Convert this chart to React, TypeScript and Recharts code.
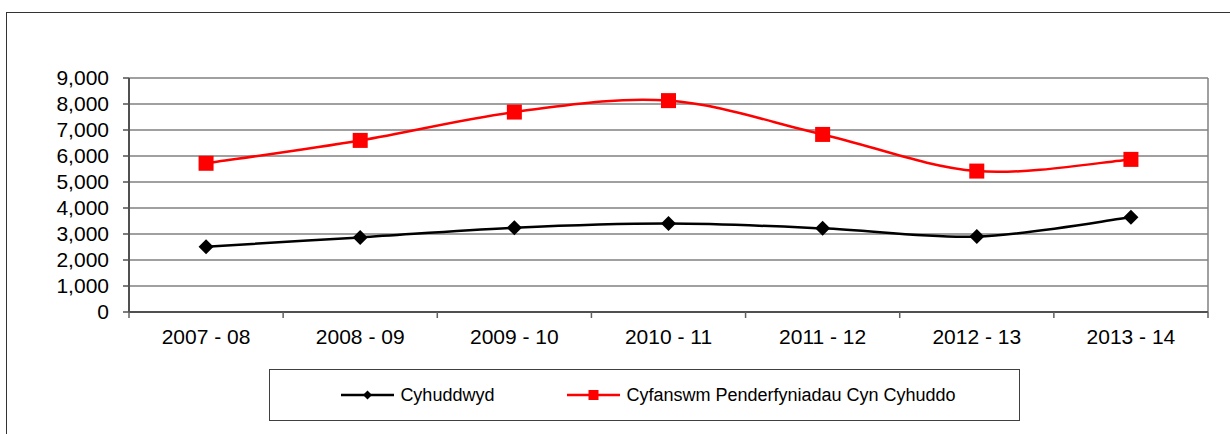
import React from 'react';
import { LineChart, Line, XAxis, YAxis, CartesianGrid } from 'recharts';

const years = ['2007 - 08', '2008 - 09', '2009 - 10', '2010 - 11', '2011 - 12', '2012 - 13', '2013 - 14'];
const charged = [2510, 2870, 3240, 3400, 3220, 2900, 3640];
const preChargeTotal = [5720, 6600, 7690, 8130, 6830, 5420, 5870];
const yTicks = [0, 1000, 2000, 3000, 4000, 5000, 6000, 7000, 8000, 9000];

const data = years.map((year, i) => ({
  year,
  Cyhuddwyd: charged[i],
  'Cyfanswm Penderfyniadau Cyn Cyhuddo': preChargeTotal[i],
}));

const W = 1230;
const H = 434;
const MARGIN = { top: 78, right: 22, bottom: 82, left: 0 };
const Y_AXIS_W = 129;
const FONT = '"Liberation Sans", Arial, sans-serif';
const BAND = (W - MARGIN.left - Y_AXIS_W - MARGIN.right) / years.length;

// Excel-style smoothed line (Catmull-Rom into cubic beziers)
const excelSmooth = (context: any) => {
  let pts: [number, number][] = [];
  return {
    areaStart() {},
    areaEnd() {},
    lineStart() {
      pts = [];
    },
    point(x: number, y: number) {
      pts.push([+x, +y]);
    },
    lineEnd() {
      const n = pts.length;
      if (!n) return;
      context.moveTo(pts[0][0], pts[0][1]);
      for (let i = 0; i < n - 1; i++) {
        const p0 = pts[Math.max(i - 1, 0)];
        const p1 = pts[i];
        const p2 = pts[i + 1];
        const p3 = pts[Math.min(i + 2, n - 1)];
        context.bezierCurveTo(
          p1[0] + (p2[0] - p0[0]) / 6,
          p1[1] + (p2[1] - p0[1]) / 6,
          p2[0] - (p3[0] - p1[0]) / 6,
          p2[1] - (p3[1] - p1[1]) / 6,
          p2[0],
          p2[1],
        );
      }
    },
  };
};

const Diamond = ({ cx, cy, r = 7 }: any) => (
  <path d={`M${cx},${cy - r}L${cx + r},${cy}L${cx},${cy + r}L${cx - r},${cy}Z`} fill="#000" />
);

const Square = ({ cx, cy, s = 15 }: any) => (
  <rect x={cx - s / 2} y={cy - s / 2} width={s} height={s} fill="#FF0000" />
);

const XTick = ({ x, y, payload, index }: any) => {
  const last = index === years.length - 1;
  return (
    <g>
      <line x1={x - BAND / 2} y1={y} x2={x - BAND / 2} y2={y + 6} stroke="#606060" strokeWidth={1.5} />
      {last && <line x1={x + BAND / 2} y1={y} x2={x + BAND / 2} y2={y + 6} stroke="#606060" strokeWidth={1.5} />}
      <text x={x} y={y + 32} textAnchor="middle" fontSize={21} fontFamily={FONT} fill="#000">
        {payload.value}
      </text>
    </g>
  );
};

function LegendBox() {
  const item = (label: string, color: string, marker: React.ReactNode) => (
    <div style={{ display: 'flex', alignItems: 'center', gap: 6 }}>
      <svg width={53} height={14}>
        <line x1={0} y1={7} x2={53} y2={7} stroke={color} strokeWidth={2.5} />
        {marker}
      </svg>
      <span style={{ fontSize: 18, fontFamily: FONT, color: '#000' }}>{label}</span>
    </div>
  );
  return (
    <div
      style={{
        position: 'absolute',
        left: 269,
        top: 369,
        width: 751,
        height: 52,
        border: '1.5px solid #404040',
        display: 'flex',
        alignItems: 'center',
        justifyContent: 'center',
        gap: 73,
        paddingLeft: 8,
        boxSizing: 'border-box',
        background: '#fff',
      }}
    >
      {item('Cyhuddwyd', '#000', <Diamond cx={26.5} cy={7} r={4.5} />)}
      {item('Cyfanswm Penderfyniadau Cyn Cyhuddo', '#FF0000', <Square cx={26.5} cy={7} s={10} />)}
    </div>
  );
}

export default function App() {
  return (
    <div style={{ position: 'absolute', left: 0, top: 0, width: W, height: H, overflow: 'hidden', background: '#fff' }}>
      <div
        style={{
          position: 'absolute',
          left: 6,
          top: 12,
          width: W,
          height: H,
          border: '1px solid #333',
        }}
      />
      <div style={{ position: 'absolute', left: 0, top: 0 }}>
        <LineChart width={W} height={H} data={data} margin={MARGIN}>
          <CartesianGrid
            stroke="#808080"
            strokeWidth={1.5}
            verticalCoordinatesGenerator={({ offset }: any) => [offset.left + offset.width]}
          />
          <XAxis
            dataKey="year"
            height={40}
            padding={{ left: BAND / 2, right: BAND / 2 }}
            tickLine={false}
            tickSize={0}
            tickMargin={0}
            axisLine={{ stroke: '#505050', strokeWidth: 2 }}
            tick={<XTick />}
            interval={0}
          />
          <YAxis
            width={Y_AXIS_W}
            domain={[0, 9000]}
            ticks={yTicks}
            interval={0}
            tickSize={6}
            tickMargin={14}
            tickFormatter={(v: number) => v.toLocaleString('en-US')}
            tick={{ fontSize: 21, fontFamily: FONT, fill: '#000' }}
            tickLine={{ stroke: '#505050', strokeWidth: 1.5 }}
            axisLine={{ stroke: '#505050', strokeWidth: 2 }}
          />
          <Line
            dataKey="Cyhuddwyd"
            type={excelSmooth as any}
            stroke="#000"
            strokeWidth={2.5}
            dot={(p: any) => <Diamond key={`d${p.index}`} cx={p.cx} cy={p.cy} r={7.5} />}
            activeDot={false}
            isAnimationActive={false}
          />
          <Line
            dataKey="Cyfanswm Penderfyniadau Cyn Cyhuddo"
            type={excelSmooth as any}
            stroke="#FF0000"
            strokeWidth={2.5}
            dot={(p: any) => <Square key={`s${p.index}`} cx={p.cx} cy={p.cy} s={15} />}
            activeDot={false}
            isAnimationActive={false}
          />
        </LineChart>
      </div>
      <LegendBox />
    </div>
  );
}
